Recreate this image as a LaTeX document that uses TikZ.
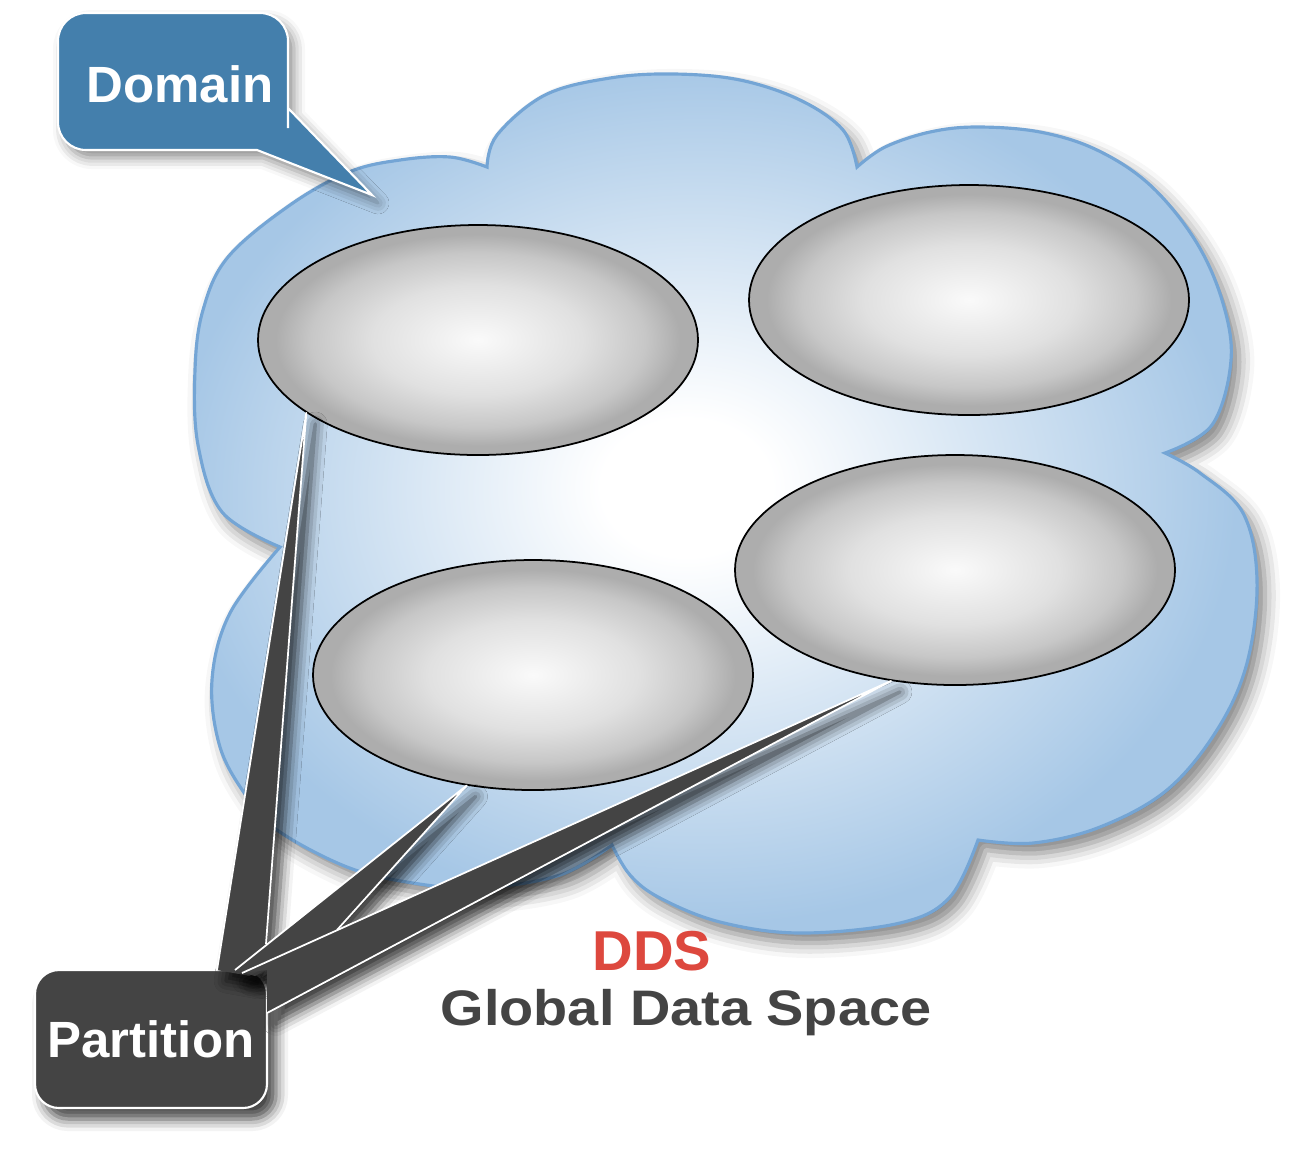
\documentclass[tikz,border=0pt]{standalone}
\usepackage{fontspec}
\setmainfont{Liberation Sans}
\newfontfamily\widesans{Liberation Sans}[FakeStretch=1.12]
\usepackage{tikz}
\usetikzlibrary{shapes.geometric,shadows.blur}

\definecolor{cloudblue}{RGB}{166,199,230}
\definecolor{cloudedge}{RGB}{116,165,213}
\definecolor{domainblue}{RGB}{68,127,172}
\definecolor{darkgrey}{RGB}{68,68,68}
\definecolor{ddsred}{RGB}{221,72,62}
\definecolor{ballgrey}{RGB}{173,173,173}

\pgfdeclareradialshading{cloudglow}{\pgfpoint{-2bp}{1bp}}{color(0bp)=(white); color(4bp)=(white); color(25bp)=(cloudblue); color(50bp)=(cloudblue)}
\pgfdeclareradialshading{ballglow}{\pgfpoint{0bp}{0bp}}{color(0bp)=(white!98!black); color(12bp)=(white!88!black); color(19bp)=(white!78!black); color(23bp)=(ballgrey); color(50bp)=(ballgrey)}

\tikzset{
  softshadow/.style={blur shadow={shadow xshift=0.6mm, shadow yshift=-0.8mm, shadow blur radius=1.1mm, shadow opacity=45}},
  darkshadow/.style={blur shadow={shadow xshift=0.9mm, shadow yshift=-1.1mm, shadow blur radius=1.2mm, shadow opacity=75}},
  cloudshape/.style={draw=cloudedge, line width=0.9pt, shade, shading=cloudglow, blur shadow={shadow xshift=0.8mm, shadow yshift=-1mm, shadow blur radius=1.5mm, shadow opacity=50}},
  partball/.style={ellipse, draw=black, line width=0.5pt, shade, shading=ballglow, minimum width=44mm, minimum height=23mm, inner sep=0pt},
  boxlabel/.style={text=white, font=\bfseries\fontsize{14.5}{17}\selectfont},
  partbox/.style={rectangle, rounded corners=2.4mm, fill=darkgrey, draw=white, line width=0.6pt, minimum width=23.2mm, minimum height=13.8mm, inner sep=0pt, darkshadow, boxlabel},
  tailwedge/.style={fill=darkgrey, darkshadow},
  tailedge/.style={draw=white, line width=0.5pt, line join=round},
}

\begin{document}
\begin{tikzpicture}[x=0.1mm, y=-0.1mm]
            \useasboundingbox (0,0) rectangle (1316,1173);
            \path[cloudshape] plot[smooth, tension=0.6] coordinates {(280,547) (222,512) (198,445) (195,370) (203,310) (228,257) (290,205) (349,172) (400,160) (450,157) (487,167)}
                -- plot[smooth, tension=0.6] coordinates {(487,167) (497,135) (545,95) (610,78) (674,74) (740,80) (800,100) (843,130) (857,167)}
                -- plot[smooth, tension=0.6] coordinates {(857,167) (885,147) (930,132) (977,127) (1040,132) (1097,150) (1150,185) (1195,240) (1222,300) (1231,360) (1212,425) (1165,453)}
                -- plot[smooth, tension=0.6] coordinates {(1165,453) (1200,473) (1243,513) (1257,580) (1247,663) (1217,730) (1167,790) (1100,827) (1033,843) (978,840)}
                -- plot[smooth, tension=0.6] coordinates {(978,840) (950,897) (900,923) (800,933) (720,922) (660,898) (630,875) (612,845)}
                -- plot[smooth, tension=0.6] coordinates {(612,845) (560,875) (480,888) (413,883) (347,867) (277,830) (247,797) (220,747) (212,680) (230,613) (280,547)}
                -- cycle;
            \node[partball] (p1) at (478,340) {};
            \node[partball] (p2) at (969,300) {};
            \node[partball] (p3) at (533,675) {};
            \node[partball] (p4) at (955,570) {};
            \coordinate (dtip) at (372,195);
            \path[fill=domainblue, draw=white, line width=0.6pt, softshadow] (173,13) [rounded corners=2.8mm] -- (288,13) -- (288,100) [sharp corners] -- (288,108) -- (dtip) -- (257,150) -- (250,150) [rounded corners=2.8mm] -- (58,150) -- (58,13) -- cycle;
            \node[boxlabel] (domain) at (180,84) {Domain};
            \node[partbox] (partition) at (151,1039) {Partition};
            \coordinate (va) at (217,970);
            \coordinate (vb) at (266,944);
            \coordinate (ma) at (235,970);
            \coordinate (mb) at (337,930);
            \coordinate (la) at (242,973);
            \coordinate (lb) at (267,1013);
            \fill[tailwedge] (va) -- (p1.203) -- (vb) -- (250,976) -- cycle;
            \draw[tailedge] (va) -- (p1.203) -- (vb);
            \fill[tailwedge] (ma) -- (p3.239) -- (mb) -- (255,976) -- cycle;
            \draw[tailedge] (ma) -- (p3.239) -- (mb);
            \fill[tailwedge] (la) -- (p4.240) -- (lb) -- (267,970) -- cycle;
            \draw[tailedge] (la) -- (p4.240) -- (lb);
            \node[anchor=base, text=ddsred, font=\bfseries\fontsize{16}{19}\selectfont] (dds) at (652,970) {DDS};
            \node[anchor=base, text=darkgrey, font=\widesans\bfseries\fontsize{14.2}{17}\selectfont] (space) at (686,1025) {Global Data Space};
\end{tikzpicture}
\end{document}
